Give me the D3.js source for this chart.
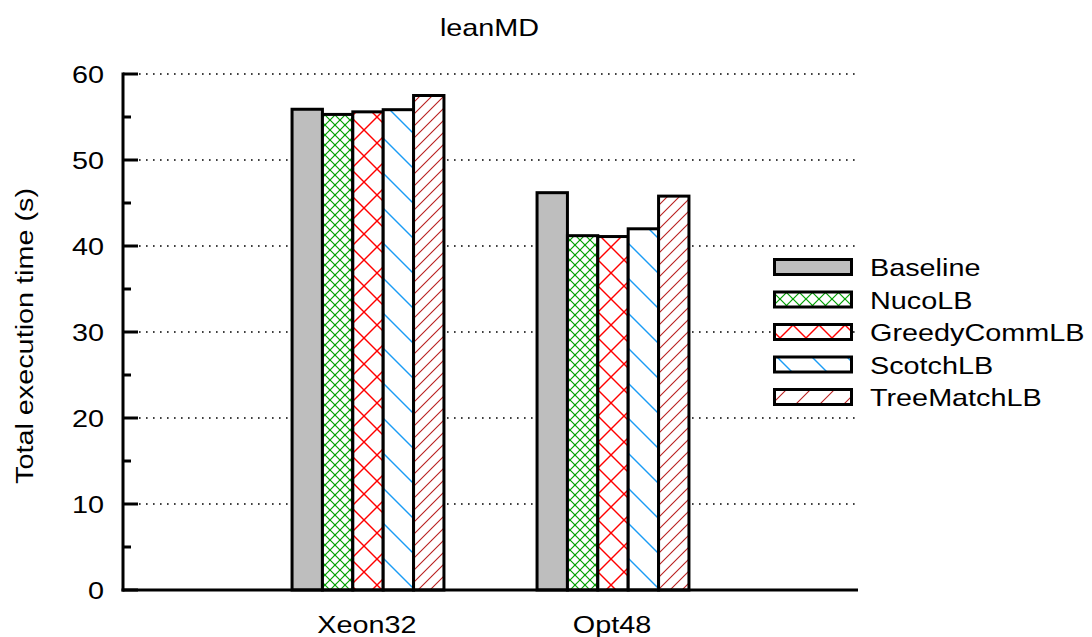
<!DOCTYPE html>
<html>
<head>
<meta charset="utf-8">
<script src="https://cdn.jsdelivr.net/npm/d3@7"></script>
<style>
  body { margin: 0; background: #fff; }
  text { font-family: "Liberation Sans", Arial, sans-serif; fill: #000; }
</style>
</head>
<body>
<div id="chart"></div>
<script>
// data
var categories = ["Xeon32", "Opt48"];
var seriesNames = ["Baseline", "NucoLB", "GreedyCommLB", "ScotchLB", "TreeMatchLB"];
var baseline    = [55.9, 46.2];
var nucoLB      = [55.3, 41.2];
var greedyComm  = [55.6, 41.1];
var scotchLB    = [55.85, 42.0];
var treeMatchLB = [57.5, 45.8];
var yTicks = [0, 10, 20, 30, 40, 50, 60];
var yMinorTicks = [5, 15, 25, 35, 45, 55];

var series = [baseline, nucoLB, greedyComm, scotchLB, treeMatchLB];

var width = 1092, height = 637;
var margin = {top: 74, right: 234, bottom: 47, left: 123};
var fontSize = 24, stretch = 1.2;

var svg = d3.select("#chart")
    .append("svg")
    .attr("width", width)
    .attr("height", height);

// fill patterns (gnuplot-ish)
var defs = svg.append("defs");
function hatch(id, size, color, lines, sw) {
    var p = defs.append("pattern")
        .attr("id", id)
        .attr("patternUnits", "userSpaceOnUse")
        .attr("width", size).attr("height", size);
    p.append("rect").attr("width", size).attr("height", size).attr("fill", "#fff");
    lines.forEach(function(l) {
        p.append("line")
            .attr("x1", l[0] * size).attr("y1", l[1] * size)
            .attr("x2", l[2] * size).attr("y2", l[3] * size)
            .attr("stroke", color).attr("stroke-width", sw);
    });
}
var cross = [[0, 0, 1, 1], [1, 0, 0, 1]];
var back = [[0, 0, 1, 1], [-0.5, 0.5, 0.5, 1.5], [0.5, -0.5, 1.5, 0.5]];
var fwd = [[0, 1, 1, 0], [-0.5, 0.5, 0.5, -0.5], [0.5, 1.5, 1.5, 0.5]];
hatch("p-nuco", 10, "#00a000", cross, 1.2);
hatch("p-greedy", 26, "#ff0000", cross, 1.4);
hatch("p-scotch", 35, "#1a9cf5", back, 1.4);
hatch("p-tree", 12, "#b81c1c", fwd, 1.1);
hatch("p-nuco-leg", 13, "#00a000", cross, 1.2);
hatch("p-tree-leg", 24, "#b81c1c", fwd, 1.1);

var fills = ["#bebebe", "url(#p-nuco)", "url(#p-greedy)", "url(#p-scotch)", "url(#p-tree)"];
var legendFills = ["#bebebe", "url(#p-nuco-leg)", "url(#p-greedy)", "url(#p-scotch)", "url(#p-tree-leg)"];

// text stretched along its baseline, like the original renderer
function label(sel, str, x, y, anchor, rot) {
    return sel.append("text")
        .attr("transform", "translate(" + x + "," + y + ")" + (rot ? " rotate(" + rot + ")" : "") + " scale(" + stretch + ",1)")
        .attr("text-anchor", anchor)
        .style("font-size", fontSize + "px")
        .text(str);
}

var x = d3.scaleLinear()
    .domain([0, 3])
    .range([margin.left, width - margin.right]);

var y = d3.scaleLinear()
    .domain([0, 60])
    .range([height - margin.bottom - 0, margin.top]);
var y0 = y(0);

// dotted grid
svg.selectAll(".grid")
    .data(yTicks.filter(function(d) { return d > 0; }))
    .enter()
    .append("line")
    .attr("x1", x(0) + 16)
    .attr("x2", x(3))
    .attr("y1", function(d) { return y(d); })
    .attr("y2", function(d) { return y(d); })
    .attr("stroke", "#000")
    .attr("stroke-width", 1.6)
    .attr("stroke-dasharray", "1.6,5.4");

// bars
var barW = 0.124;
series.forEach(function(vals, s) {
    svg.selectAll(".bar" + s)
        .data(vals)
        .enter()
        .append("rect")
        .attr("x", function(d, i) { return x(i + 1 + (s - 2.5) * barW); })
        .attr("width", x(barW) - x(0))
        .attr("y", function(d) { return y(d); })
        .attr("height", function(d) { return y0 - y(d); })
        .attr("fill", fills[s])
        .attr("stroke", "#000")
        .attr("stroke-width", 3);
});

// axes
svg.append("line")
    .attr("x1", x(0)).attr("x2", x(0))
    .attr("y1", y(60) - 1.5).attr("y2", y0 + 1.5)
    .attr("stroke", "#000").attr("stroke-width", 3);
svg.append("line")
    .attr("x1", x(0) - 1.5).attr("x2", x(3))
    .attr("y1", y0).attr("y2", y0)
    .attr("stroke", "#000").attr("stroke-width", 3);

svg.selectAll(".tick")
    .data(yTicks)
    .enter()
    .append("line")
    .attr("x1", x(0)).attr("x2", x(0) + 15)
    .attr("y1", function(d) { return y(d); })
    .attr("y2", function(d) { return y(d); })
    .attr("stroke", "#000").attr("stroke-width", 3);
svg.selectAll(".minor")
    .data(yMinorTicks)
    .enter()
    .append("line")
    .attr("x1", x(0)).attr("x2", x(0) + 8)
    .attr("y1", function(d) { return y(d); })
    .attr("y2", function(d) { return y(d); })
    .attr("stroke", "#000").attr("stroke-width", 3);

yTicks.forEach(function(t) {
    label(svg, String(t), 104, y(t) + 9, "end");
});

categories.forEach(function(c, i) {
    label(svg, c, x(i + 1) - 1, 633, "middle");
});

// title and axis label
label(svg, "leanMD", (x(0) + x(3)) / 2 - 1, 36, "middle");
label(svg, "Total execution time (s)", 33, 336, "middle", -90);

// legend
var legend = svg.append("g");
seriesNames.forEach(function(name, i) {
    var cy = 267 + i * 32.5;
    legend.append("rect")
        .attr("x", 774.5).attr("y", cy - 7.5)
        .attr("width", 77).attr("height", 15)
        .attr("fill", legendFills[i])
        .attr("stroke", "#000").attr("stroke-width", 3);
    label(legend, name, 870, cy + 9, "start");
});
</script>
</body>
</html>
